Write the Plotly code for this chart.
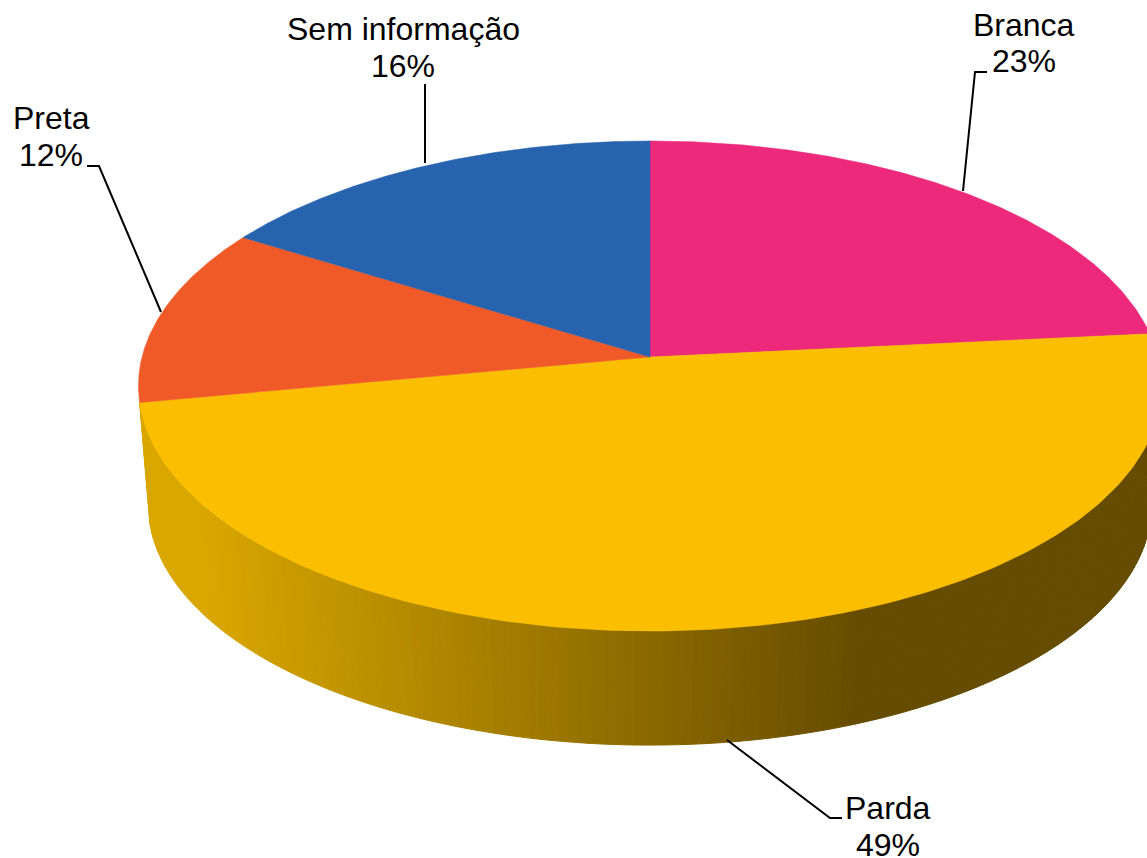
import numpy as np
import plotly.graph_objects as go

categories = ["Branca", "Parda", "Preta", "Sem informação"]
shares = [23.45, 48.6, 11.75, 16.2]
colors = ["#EC297B", "#FBBE00", "#F05A28", "#2763AE"]

label_xy = {"Branca": (1024, 25, 1024, 61), "Parda": (888, 808, 888, 845),
            "Preta": (51, 118, 51, 155), "Sem informação": (403, 29, 403, 66)}
leaders = {"Branca": ([963, 975, 987], [191, 72, 72]),
           "Parda": ([727, 830, 842], [740, 818, 818]),
           "Preta": ([161, 99, 87], [312, 166, 166]),
           "Sem informação": ([425, 425], [163, 84])}

CX, CY, A, B, K = 650.0, 357.0, 508.0, 241.6, 0.1184
BOT_A, BOT_B, BOT_Y = 498.0, 236.7, 476.6


def top(t):
    u, v = np.sin(t), -np.cos(t)
    d = 1 - K * v
    return CX + A * u / d, CY + B * v / d


def bottom(t):
    u, v = np.sin(t), -np.cos(t)
    d = 1 - K * v
    return CX + BOT_A * u / d, BOT_Y + BOT_B * v / d


def wall_color(x):
    f = np.clip((x - 205) / (855 - 205), 0, 1)
    c0, c1 = (217, 167, 0), (102, 76, 0)
    return "rgb(%d,%d,%d)" % tuple(round(a + (b - a) * f) for a, b in zip(c0, c1))


fig = go.Figure()
edges = np.concatenate([[0], np.cumsum(shares)]) / 100 * 2 * np.pi

# Side wall of the front slice
i = categories.index("Parda")
ts = np.linspace(edges[i], edges[i + 1], 181)
for t0, t1 in zip(ts[:-1], ts[1:]):
    seg = np.linspace(t0, t1, 3)
    xt, yt = top(seg)
    xb, yb = bottom(seg[::-1])
    col = wall_color((xt.mean() + xb.mean()) / 2)
    fig.add_trace(go.Scatter(x=np.r_[xt, xb, xt[0]], y=np.r_[yt, yb, yt[0]], mode="lines",
                             fill="toself", fillcolor=col, line=dict(color=col, width=1),
                             hoverinfo="skip", showlegend=False))

# Top faces
for j, cat in enumerate(categories):
    t = np.linspace(edges[j], edges[j + 1], 200)
    x, y = top(t)
    fig.add_trace(go.Scatter(x=np.r_[CX, x, CX], y=np.r_[CY, y, CY], mode="lines",
                             fill="toself", fillcolor=colors[j], line=dict(color=colors[j], width=0.5),
                             name=cat, hoverinfo="name", showlegend=False))

# Leader lines
for cat in categories:
    lx, ly = leaders[cat]
    fig.add_trace(go.Scatter(x=lx, y=ly, mode="lines", line=dict(color="#000000", width=2),
                             hoverinfo="skip", showlegend=False))

# Labels
font = dict(family="Liberation Sans, Arial, sans-serif", size=32, color="#000000")
for cat, val in zip(categories, shares):
    x1, y1, x2, y2 = label_xy[cat]
    fig.add_annotation(x=x1, y=y1, text=cat, showarrow=False, font=font, xanchor="center", yanchor="middle")
    fig.add_annotation(x=x2, y=y2, text=f"{round(val)}%", showarrow=False, font=font, xanchor="center", yanchor="middle")

fig.update_layout(width=1147, height=858, margin=dict(l=0, r=0, t=0, b=0), autosize=False,
                  paper_bgcolor="white", plot_bgcolor="white", showlegend=False,
                  xaxis=dict(range=[0, 1147], visible=False),
                  yaxis=dict(range=[858, 0], visible=False))
fig.write_html("out.html", config=dict(displayModeBar=False),
               post_script="document.body.style.margin='0';document.documentElement.style.overflow='hidden';")
